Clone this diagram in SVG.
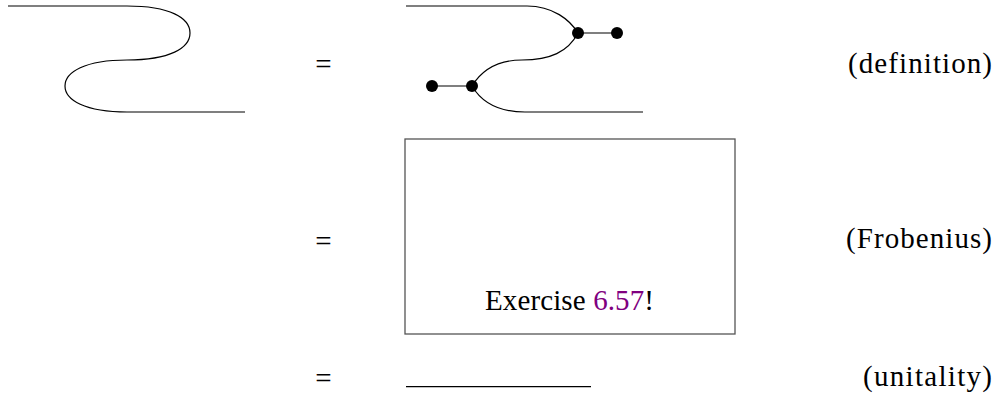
<svg xmlns="http://www.w3.org/2000/svg" width="998" height="395" viewBox="0 0 998 395">
<style>
.w{fill:none;stroke:#000;stroke-width:1.2}
.g{fill:none;stroke:#555;stroke-width:1.4}
.d{fill:#000}
.t{font-family:"Liberation Serif","Times New Roman",serif;font-size:29px;fill:#000}
.p{fill:#800080}
</style>
<rect width="998" height="395" fill="#fff"/>
<g id="snake">
<path class="w" d="M8 6H127C170 6 190 18 190 33C190 48 170 60 127 60C85 60 65 72 65 86C65 100 85 112 127 112H245"/>
</g>
<g id="eq1"><text class="t" x="323.5" y="74" text-anchor="middle">=</text></g>
<g id="defdiagram">
<path class="w" d="M406 6H527C553 6 570 20 578 33"/>
<path class="w" d="M578 33C568 52 550 60 522 60C495 60 480 73 472 86"/>
<path class="w" d="M472 86C482 103 500 112 525 112H643"/>
<line class="g" x1="578" y1="33" x2="617" y2="33"/>
<line class="g" x1="432" y1="86" x2="472" y2="86"/>
<circle class="d" cx="578" cy="33" r="6"/>
<circle class="d" cx="617" cy="33" r="6"/>
<circle class="d" cx="472" cy="86" r="6"/>
<circle class="d" cx="432" cy="86" r="6"/>
</g>
<g id="label-definition"><text class="t" x="992" y="73" text-anchor="end" textLength="144" lengthAdjust="spacing">(definition)</text></g>
<g id="eq2"><text class="t" x="323.5" y="251" text-anchor="middle">=</text></g>
<g id="exercise">
<rect x="405" y="139" width="330" height="195" fill="none" stroke="#555" stroke-width="1.3"/>
<text class="t" x="485" y="310" textLength="169" lengthAdjust="spacing">Exercise <tspan class="p">6.57</tspan>!</text>
</g>
<g id="label-frobenius"><text class="t" x="992" y="248" text-anchor="end" textLength="146" lengthAdjust="spacing">(Frobenius)</text></g>
<g id="eq3"><text class="t" x="323.5" y="388" text-anchor="middle">=</text></g>
<g id="wire"><line class="w" x1="406" y1="386.7" x2="591" y2="386.7"/></g>
<g id="label-unitality"><text class="t" x="992" y="386" text-anchor="end" textLength="129" lengthAdjust="spacing">(unitality)</text></g>
</svg>
